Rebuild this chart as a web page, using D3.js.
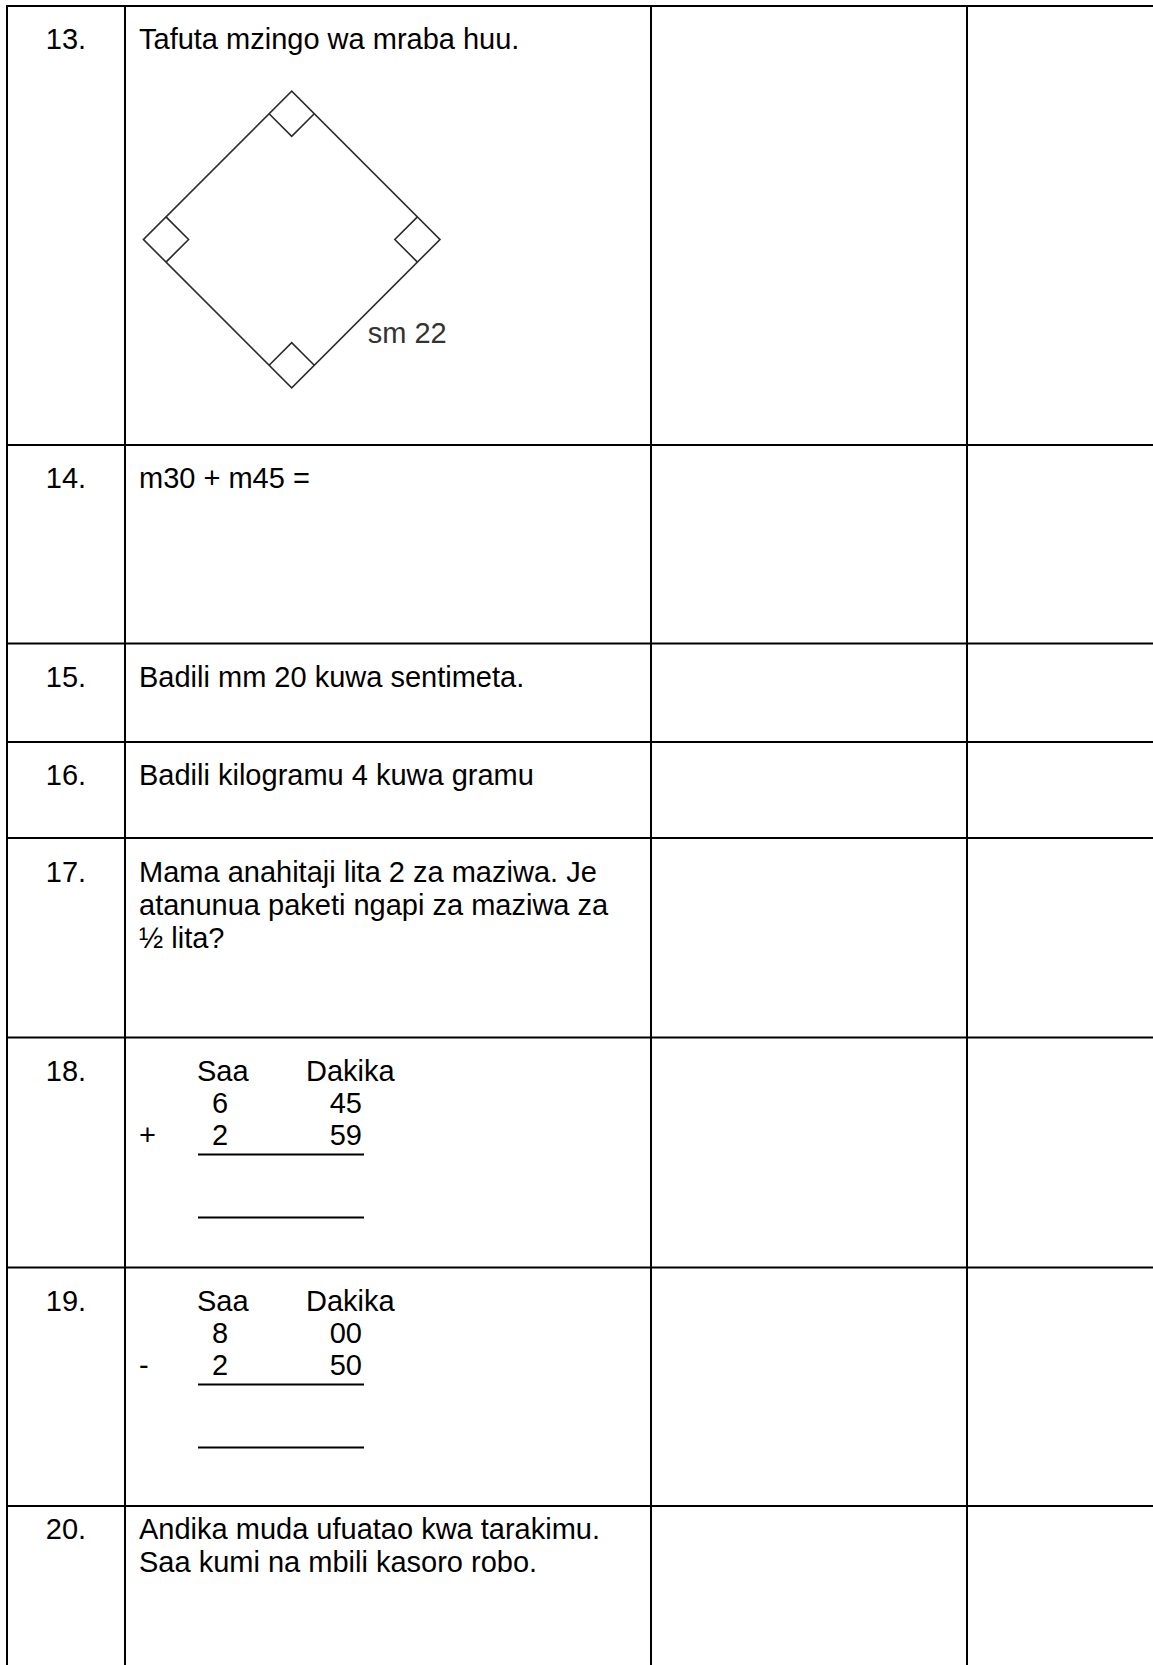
<!DOCTYPE html>
<html>
<head>
<meta charset="utf-8">
<script src="https://cdn.jsdelivr.net/npm/d3@7"></script>
<style>
  body { margin: 0; background: #fff; }
  svg { display: block; }
</style>
</head>
<body>
<div id="sheet"></div>
<script>
// question numbers and the text in the question column
var questionNumbers = ["13.", "14.", "15.", "16.", "17.", "18.", "19.", "20."];
var questionLines = [
    ["Tafuta mzingo wa mraba huu."],
    ["m30 + m45 ="],
    ["Badili mm 20 kuwa sentimeta."],
    ["Badili kilogramu 4 kuwa gramu"],
    ["Mama anahitaji lita 2 za maziwa. Je", "atanunua paketi ngapi za maziwa za", "\u00bd lita?"],
    [],
    [],
    ["Andika muda ufuatao kwa tarakimu.", "Saa kumi na mbili kasoro robo."]
];

// the two time sums (rows 18 and 19)
var timeHeaders = ["Saa", "Dakika"];
var timeSigns = ["+", "-"];
var timeHours = [[6, 2], [8, 2]];
var timeMinutes = [["45", "59"], ["00", "50"]];

// the square in question 13
var squareSide = 22;
var squareLabel = "sm 22";

// page layout
var width = 1153;
var height = 1665;
var colEdges = [7, 125, 651, 967, 1160];
var rowEdges = [6, 445, 643.5, 742, 838, 1037.5, 1267.5, 1506, 1700];
var rowBaselines = [43, 43, 43, 43, 44, 43, 43, 33];
var fontSize = 29;
var lineGap = 33;
var sumGap = 32;
var textX = 139;

var svg = d3.select("#sheet")
    .append("svg")
    .attr("width", width)
    .attr("height", height)
    .style("font-family", "'Liberation Sans', Arial, sans-serif")
    .style("font-size", fontSize + "px");

svg.append("rect")
    .attr("width", width)
    .attr("height", height)
    .attr("fill", "#fff");

// grid lines
var grid = svg.append("g").attr("stroke", "#000").attr("stroke-width", 2);

grid.selectAll("line.h")
    .data(rowEdges.slice(0, rowEdges.length - 1))
    .enter()
    .append("line")
    .attr("class", "h")
    .attr("x1", colEdges[0] - 1)
    .attr("x2", width)
    .attr("y1", function (d) { return d; })
    .attr("y2", function (d) { return d; });

grid.selectAll("line.v")
    .data(colEdges.slice(0, colEdges.length - 1))
    .enter()
    .append("line")
    .attr("class", "v")
    .attr("x1", function (d) { return d; })
    .attr("x2", function (d) { return d; })
    .attr("y1", rowEdges[0] - 1)
    .attr("y2", height);

// one group per row
var rows = svg.selectAll("g.row")
    .data(questionNumbers)
    .enter()
    .append("g")
    .attr("class", "row")
    .attr("transform", function (d, i) { return "translate(0," + rowEdges[i] + ")"; });

rows.append("text")
    .attr("x", (colEdges[0] + colEdges[1]) / 2)
    .attr("y", function (d, i) { return rowBaselines[i]; })
    .attr("text-anchor", "middle")
    .attr("fill", "#000")
    .text(function (d) { return d; });

rows.each(function (d, i) {
    d3.select(this).selectAll("text.q")
        .data(questionLines[i])
        .enter()
        .append("text")
        .attr("class", "q")
        .attr("x", textX)
        .attr("y", function (t, j) { return rowBaselines[i] + j * lineGap; })
        .attr("fill", "#000")
        .text(function (t) { return t; });
});

// time sums
var sumCols = { sign: 139, hours: 212, saa: 197, dakika: 306, minutesEnd: 362, ruleStart: 198, ruleEnd: 364 };
timeSigns.forEach(function (sign, k) {
    var base = rowBaselines[5 + k];
    var g = svg.append("g")
        .attr("transform", "translate(0," + rowEdges[5 + k] + ")");

    g.append("text").attr("x", sumCols.saa).attr("y", base).text(timeHeaders[0]);
    g.append("text").attr("x", sumCols.dakika).attr("y", base).text(timeHeaders[1]);

    g.selectAll("text.h")
        .data(timeHours[k])
        .enter()
        .append("text")
        .attr("class", "h")
        .attr("x", sumCols.hours)
        .attr("y", function (v, j) { return base + (j + 1) * sumGap; })
        .text(function (v) { return v; });

    g.selectAll("text.m")
        .data(timeMinutes[k])
        .enter()
        .append("text")
        .attr("class", "m")
        .attr("x", sumCols.minutesEnd)
        .attr("text-anchor", "end")
        .attr("y", function (v, j) { return base + (j + 1) * sumGap; })
        .text(function (v) { return v; });

    g.append("text")
        .attr("x", sumCols.sign)
        .attr("y", base + 2 * sumGap)
        .text(sign);

    g.selectAll("line")
        .data([117, 180])
        .enter()
        .append("line")
        .attr("x1", sumCols.ruleStart)
        .attr("x2", sumCols.ruleEnd)
        .attr("y1", function (v) { return v; })
        .attr("y2", function (v) { return v; })
        .attr("stroke", "#000")
        .attr("stroke-width", 2);
});

// square (diamond) with right angle marks
var sidePx = 209.7;
var s = d3.scaleLinear().domain([0, squareSide]).range([-sidePx / 2, sidePx / 2]);
var markSize = 3.35;
var center = [291.7, 239.5];

var fig = svg.append("g")
    .attr("transform", "translate(" + center[0] + "," + center[1] + ") rotate(45)")
    .attr("fill", "none")
    .attr("stroke", "#2a2a2a")
    .attr("stroke-width", 1.6);

fig.append("rect")
    .attr("x", s(0))
    .attr("y", s(0))
    .attr("width", s(squareSide) - s(0))
    .attr("height", s(squareSide) - s(0));

var corners = [[0, 0, 1, 1], [squareSide, 0, -1, 1], [squareSide, squareSide, -1, -1], [0, squareSide, 1, -1]];
fig.selectAll("path.mark")
    .data(corners)
    .enter()
    .append("path")
    .attr("class", "mark")
    .attr("d", function (c) {
        var x0 = c[0] + c[2] * markSize;
        var y0 = c[1] + c[3] * markSize;
        return "M" + s(x0) + "," + s(c[1]) + "L" + s(x0) + "," + s(y0) + "L" + s(c[0]) + "," + s(y0);
    });

svg.append("text")
    .attr("x", center[0] + 76)
    .attr("y", center[1] + 103)
    .attr("fill", "#333")
    .text(squareLabel);
</script>
</body>
</html>
